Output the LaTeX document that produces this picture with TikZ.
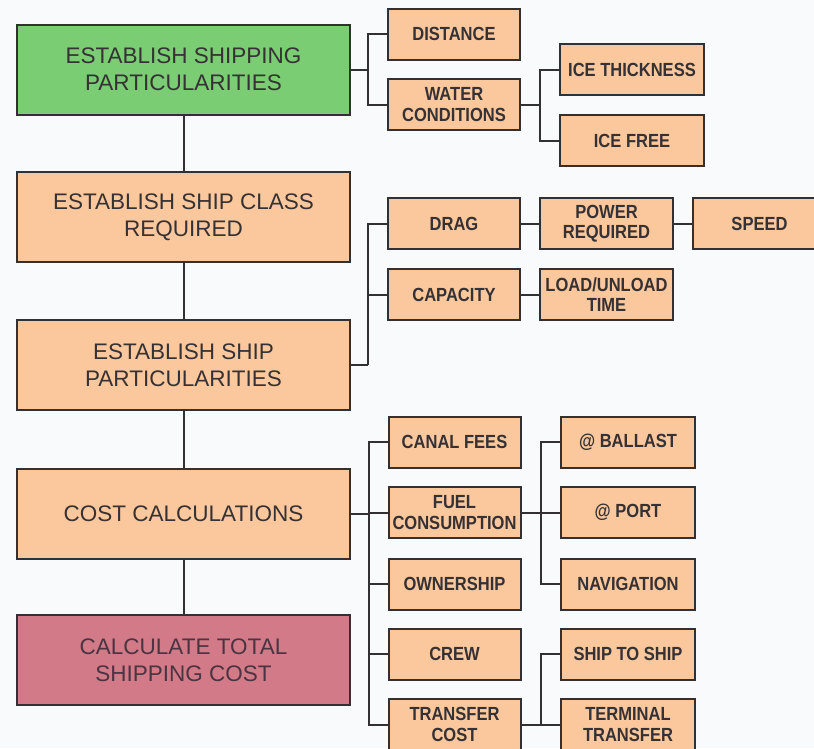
\documentclass[tikz,border=0pt]{standalone}
\usepackage{fontspec}
\setmainfont{Liberation Sans}
\newfontfamily\smallfont[FakeStretch=0.87]{Liberation Sans}
\definecolor{bg}{HTML}{F9FAFC}
\definecolor{peach}{HTML}{FAC89C}
\definecolor{leaf}{HTML}{7ACD72}
\definecolor{rose}{HTML}{D27A88}
\definecolor{ink}{HTML}{353134}
\definecolor{edge}{HTML}{333033}
\definecolor{roseink}{HTML}{4A3441}
\tikzset{
  mainbox/.style={draw=edge, line width=2pt, fill=peach, minimum width=333pt, minimum height=90pt,
    inner sep=0pt, align=center, text=ink, font=\fontsize{22.5}{27}\selectfont},
  subbox/.style={draw=edge, line width=2pt, fill=peach, minimum height=51pt,
    inner sep=0pt, align=center, text=ink, font=\smallfont\bfseries\fontsize{19}{20.5}\selectfont},
  wA/.style={minimum width=132pt},
  wB/.style={minimum width=134pt},
  link/.style={draw=edge, line width=2pt}
}
\begin{document}
\begin{tikzpicture}[x=1pt,y=-1pt]
\fill[bg] (0,0) rectangle (814,748);
\clip (0,0) rectangle (814,748);
% main column
\node[mainbox, fill=leaf] (m1) at (183.5,69.5) {ESTABLISH SHIPPING\\PARTICULARITIES};
\node[mainbox] (m2) at (183.5,217) {ESTABLISH SHIP CLASS\\REQUIRED};
\node[mainbox] (m3) at (183.5,365) {ESTABLISH SHIP\\PARTICULARITIES};
\node[mainbox] (m4) at (183.5,514) {COST CALCULATIONS};
\node[mainbox, fill=rose, text=roseink] (m5) at (183.5,660) {CALCULATE TOTAL\\SHIPPING COST};
% first-level boxes
\node[subbox, wA] (dist) at (454,34) {DISTANCE};
\node[subbox, wA] (water) at (454,104.5) {WATER\\CONDITIONS};
\node[subbox, wA] (drag) at (454,223.5) {DRAG};
\node[subbox, wA] (cap) at (454,294.5) {CAPACITY};
\node[subbox, wA] (canal) at (454.5,442) {CANAL FEES};
\node[subbox, wA] (fuel) at (454.5,512.5) {FUEL\\CONSUMPTION};
\node[subbox, wA] (own) at (454.5,584) {OWNERSHIP};
\node[subbox, wA] (crew) at (454.5,654) {CREW};
\node[subbox, wA] (trans) at (454.5,724.5) {TRANSFER\\COST};
% second-level boxes
\node[subbox, minimum width=144pt] (thick) at (632,69.5) {ICE THICKNESS};
\node[subbox, minimum width=144pt] (free) at (632,140.5) {ICE FREE};
\node[subbox, minimum width=133pt] (power) at (606.5,223.5) {POWER\\REQUIRED};
\node[subbox, minimum width=133pt] (load) at (606.5,294.5) {LOAD/UNLOAD\\TIME};
\node[subbox, minimum width=133pt] (speed) at (759.5,223.5) {SPEED};
\node[subbox, wB] (ballast) at (628,442) {@ BALLAST};
\node[subbox, wB] (port) at (628,512.5) {@ PORT};
\node[subbox, wB] (nav) at (628,584) {NAVIGATION};
\node[subbox, wB] (ship) at (628,654) {SHIP TO SHIP};
\node[subbox, wB] (term) at (628,724.5) {TERMINAL\\TRANSFER};
% trunk
\draw[link] (m1) -- (m2);
\draw[link] (m2) -- (m3);
\draw[link] (m3) -- (m4);
\draw[link] (m4) -- (m5);
% brackets
\coordinate (b1) at (368,69.5);
\draw[link] (m1.east) -- (b1);
\draw[link] (b1) |- (dist.west);
\draw[link] (b1) |- (water.west);
\coordinate (b2) at (540,104.5);
\draw[link] (water.east) -- (b2);
\draw[link] (b2) |- (thick.west);
\draw[link] (b2) |- (free.west);
\coordinate (b3) at (368,365);
\draw[link] (m3.east) -- (b3);
\draw[link] (b3) |- (drag.west);
\draw[link] (b3) |- (cap.west);
\draw[link] (drag) -- (power);
\draw[link] (power) -- (speed);
\draw[link] (cap) -- (load);
\coordinate (b4) at (369,514);
\draw[link] (m4.east) -- (b4);
\draw[link] (b4) |- (canal.west);
\draw[link] (b4) |- (fuel.west);
\draw[link] (b4) |- (own.west);
\draw[link] (b4) |- (crew.west);
\draw[link] (b4) |- (trans.west);
\coordinate (b5) at (541,512.5);
\draw[link] (fuel.east) -- (b5);
\draw[link] (b5) |- (ballast.west);
\draw[link] (b5) |- (port.west);
\draw[link] (b5) |- (nav.west);
\coordinate (b6) at (541,724.5);
\draw[link] (trans.east) -- (b6);
\draw[link] (b6) |- (ship.west);
\draw[link] (b6) |- (term.west);
\end{tikzpicture}
\end{document}
